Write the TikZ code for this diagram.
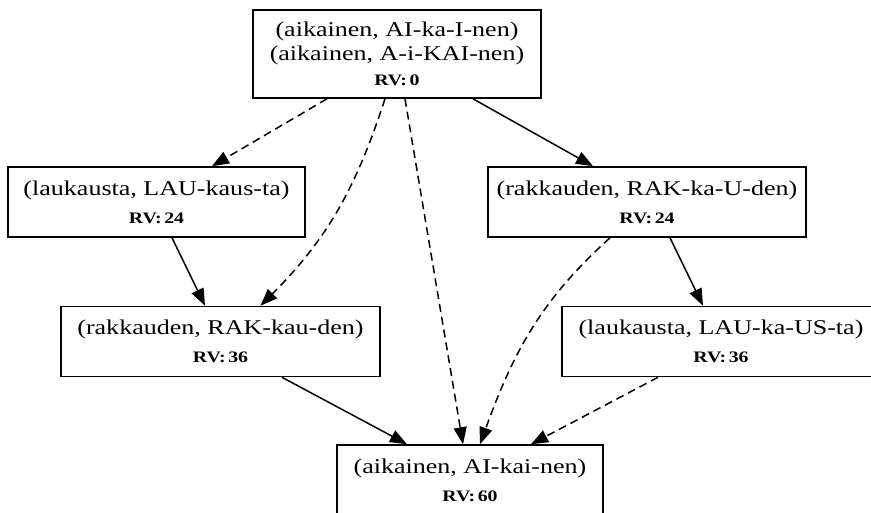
\documentclass[tikz,border=0pt]{standalone}
\usepackage{fontspec}
\setmainfont{Liberation Serif}[FakeStretch=1.24]
\usetikzlibrary{arrows.meta}

\tikzset{
    state/.style={draw, line width=1.6pt, inner sep=0pt, minimum height=70, align=center, font=\fontsize{21}{24}\selectfont},
    move/.style={-{Triangle[length=17pt,width=13pt]}, line width=1.5pt},
    altmove/.style={move, dash pattern=on 8pt off 5pt},
}
\newcommand{\rvline}[1]{{\fontsize{16}{24}\selectfont\bfseries RV:\,#1}}

\begin{document}
\begin{tikzpicture}[x=1pt,y=1pt,yscale=-1,xscale=1]
        \useasboundingbox (0,0) rectangle (871,512);
        
        % Node: start
        \node [state, minimum width=288, minimum height=88] (top) at (397,54) {(aikainen, AI-ka-I-nen)\\(aikainen, A-i-KAI-nen)\\[1pt]\rvline{0}};
        % Node: row 1
        \node [state, minimum width=297] (lm) at (156.5,202) {(laukausta, LAU-kaus-ta)\\[4pt]\rvline{24}};
        \node [state, minimum width=318] (rm) at (647,202) {(rakkauden, RAK-ka-U-den)\\[4pt]\rvline{24}};
        % Node: row 2
        \node [state, minimum width=319] (ll) at (220.5,341.5) {(rakkauden, RAK-kau-den)\\[4pt]\rvline{36}};
        \node [state, minimum width=318] (lr) at (721,341.5) {(laukausta, LAU-ka-US-ta)\\[4pt]\rvline{36}};
        % Node: end
        \node [state, minimum width=266] (bot) at (470,480) {(aikainen, AI-kai-nen)\\[4pt]\rvline{60}};
        
        % Edges from start
        \draw [altmove] ([xshift=-70]top.south) -- ([xshift=55.5]lm.north);
        \draw [altmove] ([xshift=-12]top.south) to[out=108,in=-45] ([xshift=40]ll.north);
        \draw [altmove] ([xshift=8]top.south) -- ([xshift=-7]bot.north);
        \draw [move] ([xshift=76]top.south) -- ([xshift=-54]rm.north);
        % Edges from row 1
        \draw [move] ([xshift=15.5]lm.south) -- ([xshift=-15.5]ll.north);
        \draw [altmove] ([xshift=-37]rm.south) to[out=138,in=-70] ([xshift=10]bot.north);
        \draw [move] ([xshift=23]rm.south) -- ([xshift=-18]lr.north);
        % Edges from row 2
        \draw [move] ([xshift=61.5]ll.south) -- ([xshift=-63]bot.north);
        \draw [altmove] ([xshift=-63]lr.south) -- ([xshift=61]bot.north);
        
\end{tikzpicture}
\end{document}
